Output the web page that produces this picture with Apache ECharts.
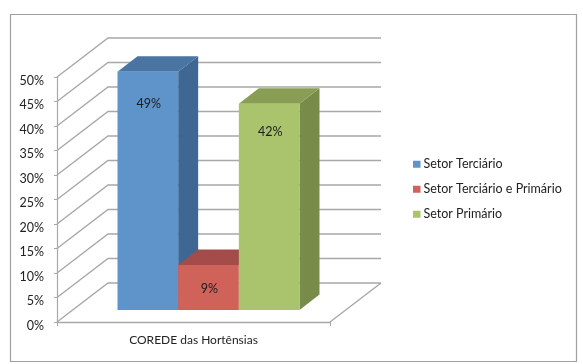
<!DOCTYPE html>
<html>
<head>
<meta charset="utf-8">
<style>html,body{margin:0;padding:0;background:#fff}#c{width:583px;height:364px;filter:blur(0.4px)}</style>
<script src="https://cdn.jsdelivr.net/npm/echarts@6/dist/echarts.min.js"></script>
</head>
<body>
<div id="c"></div>
<script>
const categories = ['COREDE das Hortênsias'];
const seriesNames = ['Setor Terciário', 'Setor Terciário e Primário', 'Setor Primário'];
const terciario = [48.6];
const terciarioPrimario = [9.2];
const primario = [42.1];
const yTicks = [0, 5, 10, 15, 20, 25, 30, 35, 40, 45, 50];

const FONT = 'Lato, "Open Sans", sans-serif';
const wallDX = 51, wallDY = -39;
const barOffX = 15, barOffY = -12;
const barDX = 20, barDY = -15.5;
const gridColor = '#a8a8a8';
const palettes = [
  { front: '#5f94cb', side: '#3f6793', top: '#4a75a3' },
  { front: '#cf6259', side: '#8e3f3c', top: '#a34c49' },
  { front: '#a9c46c', side: '#788b48', top: '#899d54' }
];
const labelDrop = [32, 24, 28.5];

function wallItem(params, api) {
  const cs = params.coordSys;
  const y = api.coord([0, api.value(0)])[1];
  const x0 = cs.x, x1 = cs.x + cs.width;
  const children = [{
    type: 'polyline',
    shape: { points: [[x0, y], [x0 + wallDX, y + wallDY], [x1 + wallDX, y + wallDY]] },
    style: { stroke: gridColor, lineWidth: 1.4, fill: 'none' }
  }];
  if (api.value(0) === 0) {
    children.push({
      type: 'line',
      shape: { x1: x1, y1: y, x2: x1 + wallDX, y2: y + wallDY },
      style: { stroke: gridColor, lineWidth: 1.4 }
    });
  }
  return { type: 'group', children: children };
}

function barRenderer(index) {
  return function (params, api) {
    const value = api.value(1);
    const base = api.coord([api.value(0), 0]);
    const tip = api.coord([api.value(0), value]);
    const band = api.size([1, 0])[0];
    const w = band / 4.5;
    const left = base[0] + barOffX + (index - 1.5) * w;
    const right = left + w;
    const bottom = base[1] + barOffY;
    const top = tip[1] + barOffY;
    const pal = palettes[index];
    return {
      type: 'group',
      children: [
        { type: 'polygon', shape: { points: [[right, top], [right + barDX, top + barDY], [right + barDX, bottom + barDY], [right, bottom]] },
          style: { fill: pal.side } },
        { type: 'polygon', shape: { points: [[left, top], [left + barDX, top + barDY], [right + barDX, top + barDY], [right, top]] },
          style: { fill: pal.top } },
        { type: 'rect', shape: { x: left, y: top, width: w, height: bottom - top },
          style: { fill: pal.front } },
        { type: 'text', style: { text: Math.round(value) + '%', x: (left + right) / 2 + 1, y: top + labelDrop[index],
            align: 'center', verticalAlign: 'middle', fill: '#1c1c1c', font: '12.5px ' + FONT } }
      ]
    };
  };
}

const barValues = [terciario, terciarioPrimario, primario];
const chart = echarts.init(document.getElementById('c'), null, { renderer: 'canvas' });
chart.setOption({
  animation: false,
  backgroundColor: '#ffffff',
  graphic: [{
    type: 'rect', silent: true, z: -10,
    shape: { x: 10.5, y: 14.5, width: 566, height: 347 },
    style: { fill: 'none', stroke: '#a0a0a0', lineWidth: 1.2 }
  }],
  grid: { left: 57, top: 77, width: 273, height: 245 },
  legend: {
    data: seriesNames,
    orient: 'vertical',
    left: 413,
    top: 157,
    padding: 0,
    itemWidth: 7.5,
    itemHeight: 7,
    itemGap: 10.5,
    icon: 'rect',
    selectedMode: false,
    textStyle: { fontFamily: FONT, fontSize: 12.5, lineHeight: 14.5, color: '#222', padding: [0, 0, 0, -2] }
  },
  xAxis: {
    type: 'category',
    data: categories,
    axisLine: { lineStyle: { color: gridColor, width: 1.4 } },
    axisTick: { show: true, length: 4, lineStyle: { color: gridColor } },
    axisLabel: { margin: 12, fontFamily: FONT, fontSize: 12, color: '#222' }
  },
  yAxis: {
    type: 'value',
    min: 0,
    max: 50,
    interval: 5,
    axisLine: { show: true, lineStyle: { color: gridColor, width: 1.2 } },
    axisTick: { show: true, length: 3, lineStyle: { color: gridColor } },
    splitLine: { show: false },
    axisLabel: { margin: 13, verticalAlign: 'top', padding: [-3, 0, 0, 0], formatter: '{value}%', fontFamily: FONT, fontSize: 12.5, color: '#222' }
  },
  series: [
    {
      type: 'custom', name: 'wall', silent: true, z: 1, clip: false,
      data: yTicks.map(v => [v]), encode: { y: 0 }, renderItem: wallItem
    }
  ].concat(seriesNames.map((name, i) => ({
    type: 'custom',
    name: name,
    z: 2 + i,
    clip: false,
    itemStyle: { color: palettes[i].front },
    encode: { x: 0, y: 1 },
    data: barValues[i].map((v, k) => [k, v]),
    renderItem: barRenderer(i)
  })))
});
</script>
</body>
</html>
